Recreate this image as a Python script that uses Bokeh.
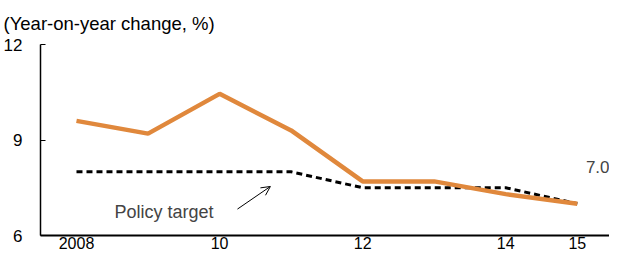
from bokeh.plotting import figure
from bokeh.models import FixedTicker, Label, Arrow, OpenHead, Range1d
from bokeh.embed import file_html
from bokeh.resources import INLINE

years = [2008, 2009, 2010, 2011, 2012, 2013, 2014, 2015]
growth = [9.6, 9.2, 10.45, 9.3, 7.7, 7.7, 7.3, 7.0]
target = [8.0, 8.0, 8.0, 8.0, 7.5, 7.5, 7.5, 7.0]
x_ticks = [2008, 2010, 2012, 2014, 2015]
x_tick_labels = ["2008", "10", "12", "14", "15"]
y_ticks = [6, 9, 12]

SANS = "Liberation Sans"

p = figure(width=609, height=251, output_backend="svg", toolbar_location=None,
           x_range=Range1d(2007.497, 2015.45), y_range=Range1d(6, 12),
           min_border_left=40, min_border_right=0, min_border_top=42, min_border_bottom=16,
           title="(Year-on-year change, %)")
p.outline_line_color = None
p.grid.visible = False
p.background_fill_color = "white"

p.title.align = "left"
p.title.offset = -37
p.title.text_font = SANS
p.title.text_font_size = "18.5px"
p.title.text_font_style = "normal"
p.title.text_color = "black"
p.title.standoff = 21

p.line(years, target, line_color="black", line_width=3, line_dash="6 4")
p.line(years, growth, line_color="#E0883C", line_width=4.5)

xa = p.xaxis[0]
xa.ticker = FixedTicker(ticks=x_ticks)
xa.major_label_overrides = {t: l for t, l in zip(x_ticks, x_tick_labels)}
xa.major_tick_out = 0
xa.major_tick_in = 0
xa.minor_tick_out = 0
xa.minor_tick_in = 0
xa.axis_line_width = 2
xa.major_label_text_font = SANS
xa.major_label_text_font_size = "16px"
xa.major_label_text_color = "black"
xa.major_label_standoff = 1

ya = p.yaxis[0]
ya.ticker = FixedTicker(ticks=y_ticks)
ya.major_tick_out = 0
ya.major_tick_in = 5
ya.minor_tick_out = 0
ya.minor_tick_in = 0
ya.axis_line_width = 1.5
ya.major_label_text_font = SANS
ya.major_label_text_font_size = "17px"
ya.major_label_text_color = "black"
ya.major_label_standoff = 18

p.add_layout(Label(x=2008.53, y=6.74, text="Policy target", text_font=SANS,
                   text_font_size="18px", text_baseline="middle", text_align="left"))
p.add_layout(Label(x=2015.12, y=8.15, text="7.0", text_font=SANS,
                   text_font_size="17px", text_baseline="middle", text_align="left"))
p.add_layout(Arrow(x_start=2010.25, y_start=6.83, x_end=2010.71, y_end=7.54,
                   line_width=1, line_color="black",
                   end=OpenHead(size=9, line_width=1, line_color="black")))

open("out.html", "w").write(file_html(p, INLINE))
